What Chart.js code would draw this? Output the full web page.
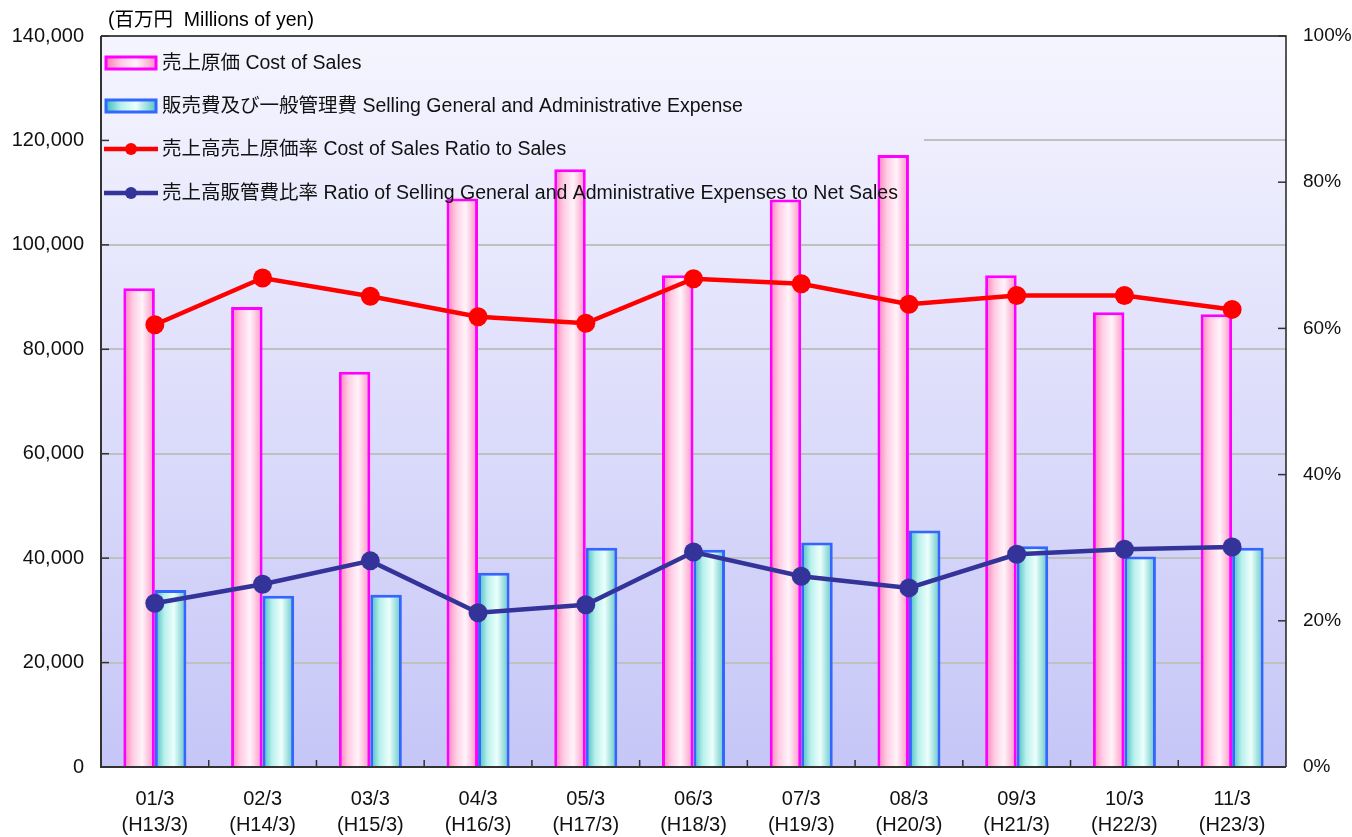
<!DOCTYPE html>
<html><head><meta charset="utf-8">
<script src="https://cdn.jsdelivr.net/npm/chart.js@4/dist/chart.umd.min.js"></script>
<style>html,body{margin:0;padding:0;background:#fff;}#wrap{width:1352px;height:837px;position:relative;}</style>
</head><body><div id="wrap"><canvas id="c" width="1352" height="837"></canvas></div>
<script>
const categories = ['01/3','02/3','03/3','04/3','05/3','06/3','07/3','08/3','09/3','10/3','11/3'];
const eraLabels = ['(H13/3)','(H14/3)','(H15/3)','(H16/3)','(H17/3)','(H18/3)','(H19/3)','(H20/3)','(H21/3)','(H22/3)','(H23/3)'];
const costOfSales = [91700, 88100, 75700, 108900, 114500, 94200, 108700, 117200, 94200, 87100, 86700];
const sgaExpense = [33900, 32800, 33000, 37200, 42000, 41600, 43000, 45300, 42300, 40300, 42000];
const costRatio = [60.5, 66.9, 64.4, 61.6, 60.7, 66.8, 66.1, 63.3, 64.5, 64.5, 62.6];
const sgaRatio = [22.4, 25.0, 28.2, 21.1, 22.2, 29.4, 26.1, 24.5, 29.1, 29.8, 30.1];
const seriesNames = ['売上原価 Cost of Sales','販売費及び一般管理費 Selling General and Administrative Expense','売上高売上原価率 Cost of Sales Ratio to Sales','売上高販管費比率 Ratio of Selling General and Administrative Expenses to Net Sales'];
const unitLabel = '(百万円  Millions of yen)';
const FONT = '"Liberation Sans", "Noto Sans CJK JP", sans-serif';
const CAT_PCT = 0.585;

function pinkGrad(c, l, w){const g=c.createLinearGradient(l,0,l+w,0);g.addColorStop(0,'#ff7ab4');g.addColorStop(0.3,'#ffcce4');g.addColorStop(0.6,'#fff4fa');g.addColorStop(1,'#ff90c2');return g;}
function tealGrad(c, l, w){const g=c.createLinearGradient(l,0,l+w,0);g.addColorStop(0,'#3cbcbc');g.addColorStop(0.3,'#b8f0ec');g.addColorStop(0.6,'#ecfffc');g.addColorStop(1,'#58c4c4');return g;}

function barFill(ctx, which){
  const chart = ctx.chart, xs = chart.scales && chart.scales.x;
  if (!chart.chartArea || !xs || ctx.dataIndex === undefined) return which===0 ? '#ffc8e4' : '#b8f0ee';
  const c = xs.getPixelForValue(ctx.dataIndex);
  const bw = xs.width / categories.length * CAT_PCT / 2;
  const l = which===0 ? c - bw : c;
  return which===0 ? pinkGrad(chart.ctx, l, bw) : tealGrad(chart.ctx, l, bw);
}

const decor = {
  id:'decor',
  beforeDraw(chart){
    const {ctx, chartArea:a} = chart;
    const g = ctx.createLinearGradient(0,a.top,0,a.bottom);
    g.addColorStop(0,'#f5f5ff'); g.addColorStop(1,'#c6c6f7');
    ctx.save(); ctx.fillStyle=g; ctx.fillRect(a.left,a.top,a.right-a.left,a.bottom-a.top);
    ctx.fillStyle='#000'; ctx.font='19.5px '+FONT; ctx.textBaseline='middle'; ctx.textAlign='left';
    ctx.fillText(unitLabel, 108, 21);
    ctx.restore();
    chart._bgGrad = g;
  },
  beforeDatasetsDraw(chart){
    const {ctx, chartArea:a} = chart;
    ctx.save(); ctx.fillStyle = chart._bgGrad; ctx.fillRect(a.left+1, a.top+1, 822, 178); ctx.restore();
  },
  afterDatasetsDraw(chart){
    const {ctx, chartArea:a} = chart;
    ctx.save();
    const ys=[63,106,149,193];
    ctx.lineWidth=3;
    ctx.fillStyle=pinkGrad(ctx,106,50); ctx.fillRect(106,57,50,12); ctx.strokeStyle='#ff00ff'; ctx.strokeRect(106,57,50,12);
    ctx.fillStyle=tealGrad(ctx,106,50); ctx.fillRect(106,100,50,12); ctx.strokeStyle='#3366ff'; ctx.strokeRect(106,100,50,12);
    const lc=['#ff0000','#333399'];
    [2,3].forEach((k,i)=>{
      ctx.strokeStyle=lc[i]; ctx.lineWidth=4.5; ctx.beginPath(); ctx.moveTo(104,ys[k]); ctx.lineTo(158,ys[k]); ctx.stroke();
      ctx.fillStyle=lc[i]; ctx.beginPath(); ctx.arc(131,ys[k],6,0,Math.PI*2); ctx.fill();
    });
    ctx.fillStyle='#111'; ctx.font='19.5px '+FONT; ctx.textBaseline='middle'; ctx.textAlign='left';
    seriesNames.forEach((t,i)=>ctx.fillText(t,162,ys[i]+1));
    ctx.strokeStyle='#222'; ctx.lineWidth=1.5;
    ctx.beginPath(); ctx.moveTo(a.left,a.top); ctx.lineTo(a.right,a.top); ctx.lineTo(a.right,a.bottom); ctx.stroke();
    ctx.strokeStyle='#333'; ctx.lineWidth=2;
    ctx.beginPath(); ctx.moveTo(a.left,a.top); ctx.lineTo(a.left,a.bottom); ctx.lineTo(a.right,a.bottom); ctx.stroke();
    ctx.lineWidth=1.5; ctx.strokeStyle='#333';
    chart.scales.y.ticks.forEach(t=>{const y=chart.scales.y.getPixelForValue(t.value); ctx.beginPath(); ctx.moveTo(a.left,y); ctx.lineTo(a.left+8,y); ctx.stroke();});
    chart.scales.y1.ticks.forEach(t=>{const y=chart.scales.y1.getPixelForValue(t.value); ctx.beginPath(); ctx.moveTo(a.right-8,y); ctx.lineTo(a.right,y); ctx.stroke();});
    const xs=chart.scales.x;
    for(let i=1;i<categories.length;i++){const x=(xs.getPixelForValue(i-1)+xs.getPixelForValue(i))/2; ctx.beginPath(); ctx.moveTo(x,a.bottom-7); ctx.lineTo(x,a.bottom); ctx.stroke();}
    ctx.restore();
  }
};

new Chart(document.getElementById('c'), {
  data: {
    labels: categories.map((c,i)=>[c, eraLabels[i]]),
    datasets: [
      {type:'line', label:seriesNames[2], data:costRatio, yAxisID:'y1', borderColor:'#ff0000', backgroundColor:'#ff0000', borderWidth:4.5, pointRadius:9.5, pointBorderWidth:0, pointBackgroundColor:'#ff0000', order:0},
      {type:'line', label:seriesNames[3], data:sgaRatio, yAxisID:'y1', borderColor:'#333399', backgroundColor:'#333399', borderWidth:4.5, pointRadius:9.5, pointBorderWidth:0, pointBackgroundColor:'#333399', order:0},
      {type:'bar', label:seriesNames[0], data:costOfSales, yAxisID:'y', backgroundColor:(c)=>barFill(c,0), borderColor:'#ff00ff', borderWidth:3, barPercentage:1, categoryPercentage:CAT_PCT, order:1},
      {type:'bar', label:seriesNames[1], data:sgaExpense, yAxisID:'y', backgroundColor:(c)=>barFill(c,1), borderColor:'#3366ff', borderWidth:3, barPercentage:1, categoryPercentage:CAT_PCT, order:1}
    ]
  },
  options: {
    responsive:false, animation:false, devicePixelRatio:1,
    layout:{padding:{top:36,left:0,right:0,bottom:0}},
    plugins:{legend:{display:false}, tooltip:{enabled:false}},
    scales:{
      x:{grid:{display:false, drawTicks:false}, border:{display:false},
         ticks:{color:'#111', font:{family:FONT,size:20,lineHeight:1.3}, padding:19, maxRotation:0, autoSkip:false},
         afterFit(s){s.height=70;}},
      y:{position:'left', min:0, max:140000, grid:{color:'#c0c0c0', lineWidth:2, drawTicks:false}, border:{display:false},
         ticks:{stepSize:20000, color:'#111', font:{family:FONT,size:20}, padding:17, callback:v=>v.toLocaleString('en-US')},
         afterFit(s){s.width=101;}},
      y1:{position:'right', min:0, max:100, grid:{drawOnChartArea:false, drawTicks:false}, border:{display:false},
         ticks:{stepSize:20, color:'#111', font:{family:FONT,size:19}, padding:17, callback:v=>v+'%'},
         afterFit(s){s.width=66;}}
    }
  },
  plugins:[decor]
});
</script></body></html>
